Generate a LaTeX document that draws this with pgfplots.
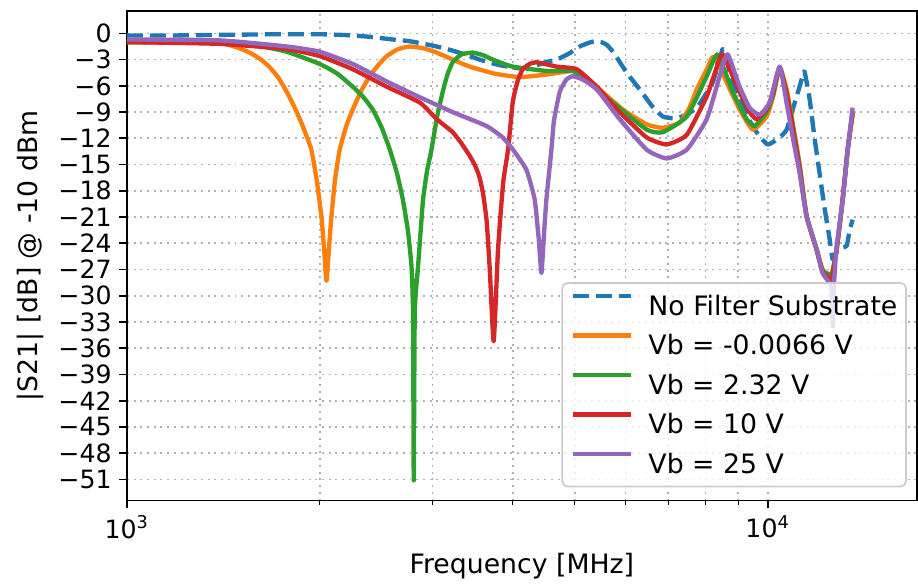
\documentclass[border=0pt]{standalone}
\usepackage{fontspec}
\setmainfont{DejaVu Sans}
\usepackage{pgfplots}
\pgfplotsset{compat=1.18}
\definecolor{c0}{HTML}{1F77B4}
\definecolor{c1}{HTML}{FF7F0E}
\definecolor{c2}{HTML}{2CA02C}
\definecolor{c3}{HTML}{D62728}
\definecolor{c4}{HTML}{9467BD}
\definecolor{gridc}{HTML}{B0B0B0}
\definecolor{legc}{HTML}{CCCCCC}
\begin{document}
\begin{tikzpicture}
\begin{axis}[
  name=ax, scale only axis, width=363.9bp, height=225.4bp,
  xmode=log, xmin=1000, xmax=17100, ymin=-53.4, ymax=2.55,
  xtick={1000,10000}, xticklabels={10\textsuperscript{3},10\textsuperscript{4}},
  minor xtick={2000,3000,4000,5000,6000,7000,8000,9000},
  ytick={0,-3,...,-51},
  yticklabels={0,−3,−6,−9,−12,−15,−18,−21,−24,−27,−30,−33,−36,−39,−42,−45,−48,−51},
  xmajorgrids, xminorgrids, ymajorgrids,
  grid style={gridc, line width=0.8bp, dash pattern=on 0.9bp off 2.2bp},
  minor grid style={gridc, line width=0.8bp, dash pattern=on 0.9bp off 2.2bp},
  tick align=outside, tick pos=left,
  major tick length=3.5bp, minor tick length=2bp,
  major tick style={black, line width=0.8bp},
  minor tick style={black, line width=0.6bp},
  axis line style={black, line width=0.8bp},
  tick label style={font=\fontsize{11.6bp}{13bp}\selectfont},
  label style={font=\fontsize{12.3bp}{14bp}\selectfont},
  xlabel={Frequency [MHz]},
  ylabel={|S21| [dB] @ -10 dBm},
  legend cell align=left,
  legend style={at={(1,0)}, anchor=south east, xshift=-4.6bp, yshift=6bp,
    draw=legc, line width=0.8bp, rounded corners=2.5bp, fill=white,
    fill opacity=0.8, text opacity=1, draw opacity=1,
    font=\fontsize{12.3bp}{14bp}\selectfont,
    inner xsep=4bp, inner ysep=4.5bp, row sep=6.2bp, column sep=7.2bp,
    nodes={inner sep=0pt, text height=10.4bp, text depth=1.6bp}},
  legend image code/.code={\draw[#1] (0bp,4.5bp) -- (26.5bp,4.5bp);},
  every axis plot/.append style={line width=2bp, line join=round, smooth, tension=0.3},
]
\addplot[c0, dash pattern=on 7.4bp off 3.2bp] coordinates {
(1000,-0.25) (1150,-0.25) (1300,-0.2) (1500,-0.15) (1700,-0.1) (2000,-0.1) (2200,-0.2) (2400,-0.4) (2600,-0.7) (2764,-0.9) (3002,-1.4) (3200,-1.9) (3400,-2.5) (3553,-3.0) (3800,-3.6) (4103,-4.0) (4300,-3.8) (4500,-3.3) (4686,-3.0) (4900,-2.3) (5090,-1.5) (5250,-1.1) (5373,-0.9) (5500,-1.0) (5609,-1.3) (5750,-2.2) (5940,-3.8) (6100,-5.0) (6314,-6.4) (6600,-8.3) (6859,-9.5) (7100,-9.7) (7293,-9.6) (7500,-9.2) (7752,-8.5) (8000,-7.0) (8210,-5.6) (8400,-3.2) (8506,-1.8) (8600,-2.6) (8800,-5.5) (9042,-7.2) (9300,-9.5) (9612,-11.3) (10000,-12.7) (10440,-11.9) (10706,-11.0) (10940,-8.7) (11141,-6.8) (11339,-4.9) (11420,-4.4) (11627,-7.5) (11838,-12) (12052,-16) (12271,-20) (12493,-23.5) (12629,-25.8) (12812,-25.0) (13043,-24.5) (13283,-24.3) (13427,-22.5) (13571,-21.3)
};
\addlegendentry{No Filter Substrate}
\addplot[c1] coordinates {
(1000,-1.0) (1210,-1.0) (1397,-1.1) (1485,-1.6) (1555,-2.2) (1620,-3.0) (1672,-3.9) (1725,-5.1) (1777,-6.7) (1820,-8.2) (1862,-9.8) (1900,-11.4) (1941,-13.3) (1979,-16.8) (2012,-20.9) (2032,-24.7) (2049,-28.3) (2067,-24.7) (2086,-20.9) (2115,-16.5) (2149,-13.3) (2200,-10.6) (2252,-8.7) (2320,-6.6) (2393,-4.9) (2470,-3.6) (2545,-2.6) (2650,-1.8) (2764,-1.5) (2900,-1.7) (3045,-2.2) (3250,-3.1) (3428,-3.8) (3750,-4.6) (4103,-5.0) (4521,-4.7) (4964,-4.3) (5200,-5.0) (5411,-6.1) (5940,-8.7) (6475,-10.4) (6859,-10.8) (7293,-10.2) (7550,-8.5) (7752,-6.4) (8035,-4.1) (8210,-2.7) (8400,-3.8) (8630,-5.6) (9042,-8.7) (9476,-11.0) (9963,-9.5) (10200,-7.2) (10440,-3.9) (10706,-6.4) (10940,-10.2) (11217,-15.0) (11502,-20.9) (11923,-24.7) (12181,-27.0) (12493,-27.6) (12560,-27.9) (12812,-24.7) (13092,-19.0) (13331,-13.3) (13571,-9.3)
};
\addlegendentry{Vb = -0.0066 V}
\addplot[c2] coordinates {
(1000,-1.0) (1210,-1.0) (1400,-1.1) (1573,-1.3) (1777,-2.1) (2000,-3.5) (2130,-4.6) (2252,-6.1) (2340,-7.3) (2419,-8.7) (2500,-10.8) (2573,-13.3) (2640,-16.0) (2696,-19.0) (2745,-22.5) (2781,-26.6) (2797,-32.0) (2804,-51.1) (2814,-32.0) (2848,-26.6) (2875,-22.5) (2899,-19.0) (2940,-15.8) (2988,-13.3) (3050,-9.5) (3111,-6.7) (3165,-4.7) (3225,-3.3) (3330,-2.4) (3465,-2.2) (3600,-2.5) (3724,-3.0) (4001,-3.8) (4521,-4.3) (4964,-4.3) (5200,-5.3) (5731,-7.9) (6475,-11.0) (6859,-11.3) (7478,-9.5) (8035,-4.9) (8356,-2.4) (8819,-6.7) (9272,-9.8) (9544,-10.6) (9963,-9.0) (10200,-7.0) (10440,-3.9) (10706,-6.8) (10940,-10.5) (11217,-15.2) (11502,-20.9) (11923,-24.7) (12181,-27.1) (12493,-27.6) (12583,-27.8) (12812,-24.7) (13092,-19.0) (13331,-13.3) (13571,-9.0)
};
\addlegendentry{Vb = 2.32 V}
\addplot[c3] coordinates {
(1000,-1.0) (1397,-1.2) (1777,-1.8) (2000,-2.6) (2252,-4.1) (2545,-6.1) (2865,-7.9) (3045,-9.8) (3225,-11.3) (3330,-12.6) (3428,-14.0) (3500,-15.2) (3553,-16.5) (3600,-18.5) (3644,-21.5) (3685,-27.0) (3737,-35.2) (3796,-24.7) (3866,-17.1) (3935,-13.3) (4001,-7.9) (4070,-5.5) (4147,-4.1) (4250,-3.5) (4361,-3.3) (4686,-3.8) (5036,-4.1) (5411,-6.1) (5876,-9.0) (6475,-11.9) (6958,-12.7) (7478,-11.6) (8035,-7.2) (8300,-4.2) (8506,-2.4) (9042,-6.7) (9373,-9.0) (9612,-9.8) (9963,-8.7) (10200,-6.8) (10440,-3.9) (10706,-6.9) (10940,-10.8) (11217,-15.5) (11502,-20.9) (11923,-24.7) (12181,-27.3) (12493,-28.0) (12583,-28.3) (12812,-24.7) (13092,-19.0) (13331,-13.3) (13571,-9.1)
};
\addlegendentry{Vb = 10 V}
\addplot[c4] coordinates {
(1000,-0.7) (1397,-0.8) (1777,-1.5) (2000,-2.1) (2252,-3.5) (2545,-5.5) (2865,-7.3) (3225,-9.0) (3644,-10.6) (3860,-11.9) (4006,-13.3) (4203,-15.6) (4330,-19.0) (4393,-23.5) (4436,-27.4) (4472,-23.5) (4516,-19.0) (4598,-13.3) (4640,-10.0) (4737,-6.7) (4850,-5.3) (4964,-4.9) (5150,-5.3) (5411,-6.4) (5876,-9.8) (6475,-13.3) (6958,-14.3) (7478,-13.3) (8035,-9.8) (8417,-4.9) (8660,-2.4) (9042,-6.1) (9373,-8.5) (9716,-9.3) (10072,-7.9) (10440,-3.8) (10706,-8.0) (10940,-11.8) (11217,-16.0) (11502,-20.9) (11923,-24.7) (12181,-27.4) (12493,-28.5) (12583,-29.0) (12643,-33.5) (12698,-28.5) (12800,-24.7) (13098,-19.0) (13336,-13.3) (13571,-8.5)
};
\addlegendentry{Vb = 25 V}
\end{axis}
\pgfresetboundingbox
\path[use as bounding box] ([shift={(-58.4bp,-39.6bp)}]ax.south west) rectangle ([shift={(0.5bp,5.1bp)}]ax.north east);
\end{tikzpicture}
\end{document}
